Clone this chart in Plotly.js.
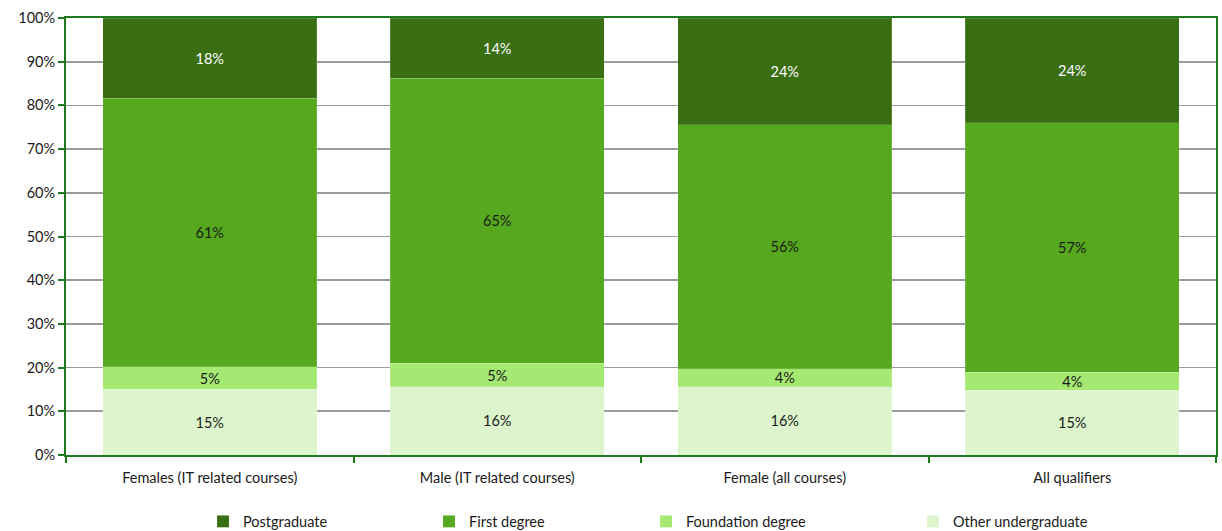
<!DOCTYPE html>
<html><head><meta charset="utf-8">
<script src="https://cdn.plot.ly/plotly-3.0.1.min.js"></script>
<style>html,body{margin:0;padding:0;background:#fff}#chart{width:1222px;height:531px}</style>
</head><body><div id="chart"></div>
<script>
const categories = ["Females (IT related courses)", "Male (IT related courses)", "Female (all courses)", "All qualifiers"];
const otherUndergraduate = [15.0, 15.6, 15.6, 14.8];
const foundationDegree = [5.2, 5.4, 4.1, 4.1];
const firstDegree = [61.4, 65.2, 55.9, 57.1];
const postgraduate = [18.4, 13.8, 24.4, 24.0];
const yTickVals = [0,10,20,30,40,50,60,70,80,90,100];
const yTickText = ["0%","10%","20%","30%","40%","50%","60%","70%","80%","90%","100%"];

const FONT = "Lato, 'Open Sans', sans-serif";
function tr(name, vals, color, txtColor, legendId) {
  return {
    type: "bar", name: name, x: categories, y: vals,
    marker: {color: color, line: {color: "rgba(255,255,255,0.15)", width: 1}},
    texttemplate: "%{y:.0f}%", textposition: "inside", insidetextanchor: "middle",
    constraintext: "none",
    textfont: {family: FONT, size: 14.5, color: txtColor},
    hoverinfo: "skip", legend: legendId
  };
}
const data = [
  tr("Other undergraduate", otherUndergraduate, "#ddf5cc", "#1a1a1a", "legend4"),
  tr("Foundation degree", foundationDegree, "#a5e872", "#1a1a1a", "legend3"),
  tr("First degree", firstDegree, "#56a81e", "#1a1a1a", "legend2"),
  tr("Postgraduate", postgraduate, "#3a6e12", "#ffffff", "legend")
];
function leg(xpx) {
  return {orientation: "h", x: xpx/1222, xref: "container", y: 0.018, yref: "container",
    xanchor: "left", yanchor: "middle", bgcolor: "rgba(0,0,0,0)", borderwidth: 0,
    font: {family: FONT, size: 14.5, color: "#1a1a1a"}, itemwidth: 30};
}
const layout = {
  width: 1222, height: 531,
  margin: {l: 66, r: 6, t: 18, b: 76},
  paper_bgcolor: "#ffffff", plot_bgcolor: "#ffffff",
  barmode: "stack", bargap: 0.255,
  font: {family: FONT, size: 14.5, color: "#1a1a1a"},
  showlegend: true,
  legend: leg(203), legend2: leg(429), legend3: leg(646), legend4: leg(913),
  xaxis: {
    type: "category", showgrid: false, showline: true, linecolor: "#1f7a1f", linewidth: 2,
    mirror: true, ticks: "outside", tickcolor: "#1f7a1f", ticklen: 6, tickwidth: 2,
    tickson: "boundaries", ticklabelstandoff: 9,
    tickfont: {family: FONT, size: 14.5, color: "#1a1a1a"},
    fixedrange: true
  },
  yaxis: {
    range: [0, 100], tickvals: yTickVals, ticktext: yTickText,
    showgrid: true, gridcolor: "#9a9a9a", gridwidth: 1.6,
    showline: true, linecolor: "#1f7a1f", linewidth: 2, mirror: true,
    ticks: "outside", tickcolor: "#1f7a1f", ticklen: 6, tickwidth: 2,
    tickfont: {family: FONT, size: 14.5, color: "#1a1a1a"}, zeroline: false, fixedrange: true
  }
};
Plotly.newPlot("chart", data, layout, {displayModeBar: false, staticPlot: true});
</script></body></html>
